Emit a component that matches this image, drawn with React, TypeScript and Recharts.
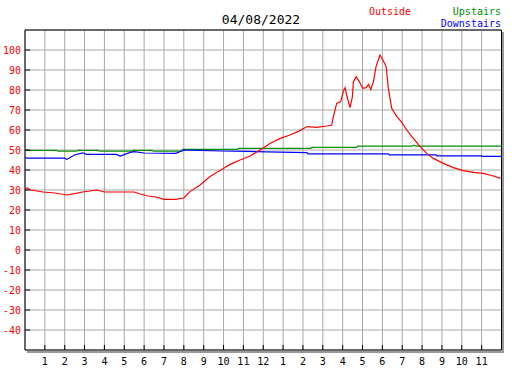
import React from 'react';
import { LineChart, Line, XAxis, YAxis, CartesianGrid, ReferenceArea } from 'recharts';

const title = '04/08/2022';

// hours since midnight
const outsideHours = [
  0, 0.1, 0.3, 0.9, 1.5, 2.1, 2.5, 2.9, 3.6, 4.0, 4.6, 5.0, 5.5, 5.8, 6.2, 6.6, 7.0, 7.6, 8.0,
  8.31, 8.82, 9.32, 9.82, 10.33, 10.83, 11.34, 11.84, 12.34, 12.85, 13.35, 13.85, 14.2, 14.7,
  15.2, 15.45, 15.53, 15.7, 15.9, 16.03, 16.12, 16.2, 16.37, 16.49, 16.54, 16.68, 16.84, 17.01,
  17.18, 17.3, 17.42, 17.55, 17.68, 17.88, 18.05, 18.19, 18.3, 18.47, 18.73, 18.98, 19.23, 19.56,
  19.9, 20.24, 20.57, 21.07, 21.58, 22.08, 22.58, 23.09, 23.59, 23.95,
];
const outsideTemps = [
  30.3, 31, 30, 29, 28.5, 27.5, 28.2, 29, 30, 29, 29, 29, 29, 28, 27, 26.5, 25.3, 25.3, 26,
  29.2, 32.5, 36.7, 39.7, 42.8, 45, 47, 50, 53.3, 55.8, 57.5, 59.7, 61.7, 61.3,
  62, 62.5, 66.7, 73.3, 74.2, 79.2, 81.2, 77.5, 71.2, 76.7, 84.2, 86.7, 84.2, 80.8,
  81.2, 82.8, 80.3, 84.2, 91.7, 97.5, 94.5, 91.7, 80.8, 70.8, 66.7, 63.8, 60, 55.8,
  51.7, 48.3, 45.8, 43.3, 41.2, 39.7, 38.8, 38.3, 37, 35.8,
];

const upstairsHours = [0, 1.6, 1.65, 2.6, 2.65, 3.7, 3.75, 5.4, 5.45, 6.4, 6.45, 7.9, 7.95, 10.7, 10.75, 14.4, 14.45, 16.7, 16.75, 19.5, 19.6, 19.7, 24];
const upstairsTemps = [49.8, 49.8, 49.4, 49.4, 49.8, 49.8, 49.4, 49.4, 49.8, 49.8, 49.4, 49.4, 50.3, 50.3, 50.8, 50.8, 51.3, 51.3, 51.9, 51.9, 52.4, 51.9, 51.9];

const downstairsHours = [0, 0.1, 2.0, 2.1, 2.5, 2.9, 3.1, 4.6, 4.8, 5.3, 5.5, 6.0, 7.6, 8.0, 8.8, 9.9, 11.2, 14.2, 14.25, 18.3, 18.35, 20.7, 20.75, 23.0, 23.05, 24];
const downstairsTemps = [46.3, 45.9, 45.9, 45.3, 47.5, 48.6, 47.8, 47.8, 47.0, 48.8, 49.2, 48.5, 48.3, 50.0, 49.8, 49.5, 49.3, 48.7, 48.1, 48.1, 47.6, 47.6, 47.1, 47.1, 46.8, 46.8];

const hourTicks = [1, 2, 3, 4, 5, 6, 7, 8, 9, 10, 11, 12, 13, 14, 15, 16, 17, 18, 19, 20, 21, 22, 23];
const tempTicks = [-40, -30, -20, -10, 0, 10, 20, 30, 40, 50, 60, 70, 80, 90, 100];

const outsideData = outsideHours.map((h, i) => ({ h, t: outsideTemps[i] }));
const upstairsData = upstairsHours.map((h, i) => ({ h, t: upstairsTemps[i] }));
const downstairsData = downstairsHours.map((h, i) => ({ h, t: downstairsTemps[i] }));

const MONO = '"DejaVu Sans Mono", monospace';
const PLOT_LEFT = 25;
const PLOT_BOTTOM = 350;

const YTick = (props: any) => {
  const { y, payload } = props;
  return (
    <g>
      <line x1={PLOT_LEFT} x2={PLOT_LEFT + 5} y1={y} y2={y} stroke="#000" />
      <text x={21} y={y} dy={3.5} textAnchor="end" fill="#ff0000" fontSize={10} fontFamily={MONO}>
        {payload.value}
      </text>
    </g>
  );
};

const XTick = (props: any) => {
  const { x, payload } = props;
  const label = payload.value % 12 === 0 ? 12 : payload.value % 12;
  return (
    <g>
      <line x1={x} x2={x} y1={PLOT_BOTTOM - 5} y2={PLOT_BOTTOM} stroke="#000" />
      <text x={x} y={365} textAnchor="middle" fill="#000" fontSize={10} fontFamily={MONO}>
        {label}
      </text>
    </g>
  );
};

export default function App() {
  return (
    <div style={{ position: 'absolute', left: 0, top: 0, width: 527, height: 370, background: '#fff' }}>
      <LineChart width={527} height={370} margin={{ top: 30, right: 25.5, bottom: 0, left: 0 }}>
        <CartesianGrid stroke="#a8a8a8" />
        <XAxis
          type="number"
          dataKey="h"
          domain={[0, 24]}
          ticks={hourTicks}
          interval={0}
          height={20}
          axisLine={false}
          tickLine={false}
          tick={<XTick />}
          allowDataOverflow
        />
        <YAxis
          type="number"
          domain={[-50, 110]}
          ticks={tempTicks}
          interval={0}
          width={25}
          axisLine={false}
          tickLine={false}
          tick={<YTick />}
          allowDataOverflow
        />
        <Line data={upstairsData} dataKey="t" stroke="#009000" strokeWidth={1.2} dot={false} isAnimationActive={false} />
        <Line data={downstairsData} dataKey="t" stroke="#0000ff" strokeWidth={1.2} dot={false} isAnimationActive={false} />
        <Line data={outsideData} dataKey="t" stroke="#ff0000" strokeWidth={1.2} dot={false} isAnimationActive={false} />
        <ReferenceArea x1={0} x2={24} y1={-50} y2={110} fill="none" stroke="#000" strokeWidth={1} />
        <text x={261} y={24} textAnchor="middle" fontSize={13} fontFamily={MONO} fill="#000">{title}</text>
        <text x={369} y={15} fontSize={10} fontFamily={MONO} fill="#ff0000">Outside</text>
        <text x={501} y={15} textAnchor="end" fontSize={10} fontFamily={MONO} fill="#009000">Upstairs</text>
        <text x={501} y={27} textAnchor="end" fontSize={10} fontFamily={MONO} fill="#0000ff">Downstairs</text>
      </LineChart>
      <div style={{ position: 'absolute', left: 502, top: 32, width: 2, height: 321, background: '#999' }} />
      <div style={{ position: 'absolute', left: 27, top: 351, width: 477, height: 2, background: '#999' }} />
    </div>
  );
}
